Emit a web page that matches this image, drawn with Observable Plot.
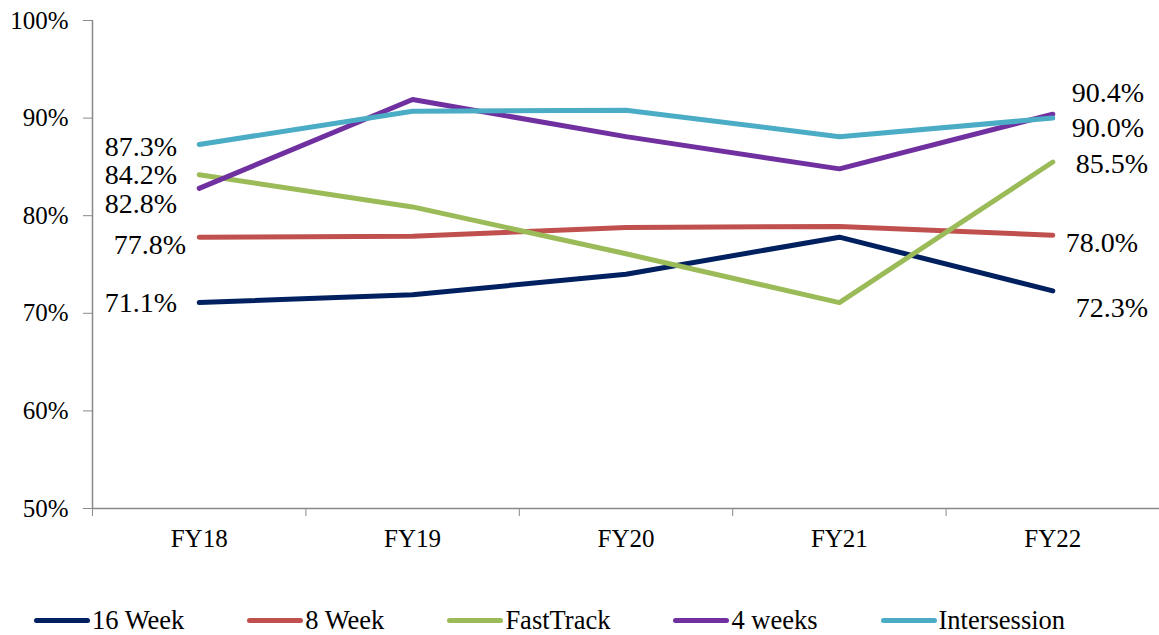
<!DOCTYPE html>
<html>
<head>
<meta charset="utf-8">
<script src="https://cdn.jsdelivr.net/npm/d3@7"></script>
<script src="https://cdn.jsdelivr.net/npm/@observablehq/plot@0.6"></script>
<style>
  body { margin: 0; background: #fff; font-family: "Liberation Serif", "Times New Roman", serif; }
  #chart svg { display: block; }
  #legend { position: relative; height: 30px; margin-top: 30px; display: flex; gap: 63px; padding-left: 34px; align-items: center; font-size: 26.5px; color: #000; font-family: "Liberation Serif", serif; }
  .item { display: flex; align-items: center; white-space: nowrap; }
  .sw { width: 56px; height: 5px; border-radius: 3px; margin-right: 2px; }
</style>
</head>
<body>
<div id="chart"></div>
<div id="legend"></div>
<script>
// ---- data ----
const years = ["FY18", "FY19", "FY20", "FY21", "FY22"];
const seriesNames = ["16 Week", "8 Week", "FastTrack", "4 weeks", "Intersession"];
const colors = ["#002060", "#C0504D", "#9BBB59", "#7030A0", "#4BACC6"];
const week16 = [71.1, 71.9, 74.0, 77.8, 72.3];
const week8 = [77.8, 77.9, 78.8, 78.9, 78.0];
const fastTrack = [84.2, 80.9, 76.1, 71.1, 85.5];
const weeks4 = [82.8, 91.9, 88.1, 84.8, 90.4];
const intersession = [87.3, 90.7, 90.8, 88.1, 90.0];
const yTicks = [50, 60, 70, 80, 90, 100];

// ---- styling config (label nudges, px) ----
const startNudge = { "16 Week": [-22, 0], "8 Week": [-13, 8], "FastTrack": [-22, 0], "4 weeks": [-22, 16], "Intersession": [-22, 3] };
const endNudge = { "16 Week": [23, 17], "8 Week": [13, 8], "FastTrack": [23, 2], "4 weeks": [19, -21], "Intersession": [19, 10] };

const seriesValues = [week16, week8, fastTrack, weeks4, intersession];
const rows = [];
seriesNames.forEach((s, si) => {
  years.forEach((yr, i) => rows.push({ series: s, year: yr, idx: i, value: seriesValues[si][i] }));
});

const gray = "#898989";
const serif = "'Liberation Serif', 'Times New Roman', serif";
const labelMarks = [];
seriesNames.forEach((s) => {
  const sr = rows.filter(r => r.series === s);
  const first = sr[0], last = sr[sr.length - 1];
  labelMarks.push(Plot.text([first], {
    x: d => d.idx + 0.5, y: "value", text: d => d.value.toFixed(1) + "%",
    textAnchor: "end", dx: startNudge[s][0], dy: startNudge[s][1], fontSize: 28, fill: "#000", fontFamily: serif
  }));
  labelMarks.push(Plot.text([last], {
    x: d => d.idx + 0.5, y: "value", text: d => d.value.toFixed(1) + "%",
    textAnchor: "start", dx: endNudge[s][0], dy: endNudge[s][1], fontSize: 28, fill: "#000", fontFamily: serif
  }));
});

const chart = Plot.plot({
  width: 1159,
  height: 575,
  marginLeft: 92,
  marginRight: 0,
  marginTop: 20,
  marginBottom: 67,
  style: { fontFamily: serif, fontSize: "25px", color: "#000", background: "#fff" },
  x: { domain: [0, years.length] },
  y: { domain: [50, 100] },
  color: { domain: seriesNames, range: colors },
  marks: [
    Plot.ruleY([50], { stroke: gray, strokeWidth: 1.5 }),
    Plot.ruleX([0], { stroke: gray, strokeWidth: 1.5 }),
    Plot.axisY({ ticks: yTicks, tickSize: 9, tickPadding: 15, tickFormat: d => d + "%", stroke: gray, fontSize: 25, fontFamily: serif, label: null }),
    Plot.axisX({ ticks: d3.range(years.length + 1), tickSize: 8, tickFormat: () => "", stroke: gray, label: null }),
    Plot.axisX({ ticks: years.map((_, i) => i + 0.5), tickSize: 0, tickPadding: 21, tickFormat: d => years[Math.floor(d)], fontSize: 25, fontFamily: serif, label: null }),
    Plot.line(rows, { x: d => d.idx + 0.5, y: "value", z: "series", stroke: "series", strokeWidth: 5, strokeLinecap: "round", strokeLinejoin: "round" }),
    ...labelMarks
  ]
});
document.getElementById("chart").appendChild(chart);

const legend = document.getElementById("legend");
seriesNames.forEach((s, i) => {
  const item = document.createElement("div");
  item.className = "item";
  const sw = document.createElement("div");
  sw.className = "sw";
  sw.style.background = colors[i];
  const t = document.createElement("span");
  t.textContent = s;
  item.appendChild(sw);
  item.appendChild(t);
  legend.appendChild(item);
});
</script>
</body>
</html>
